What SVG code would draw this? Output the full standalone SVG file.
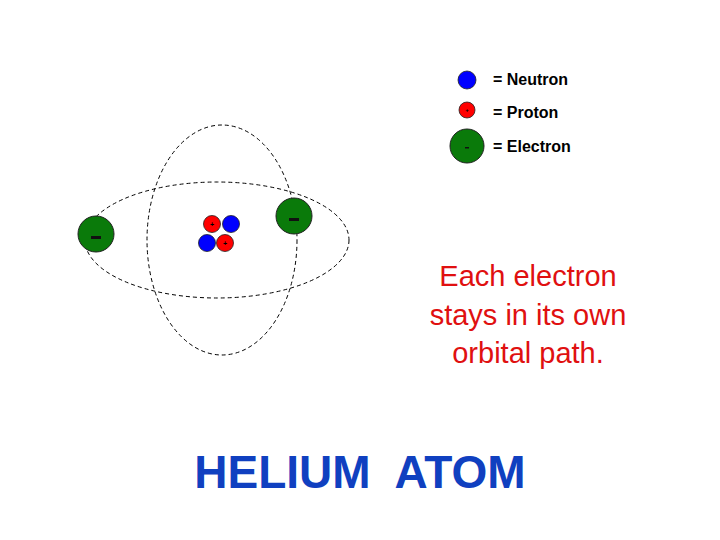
<svg xmlns="http://www.w3.org/2000/svg" width="720" height="540" viewBox="0 0 720 540">
<style>
.orb{fill:none;stroke:#000;stroke-width:1;stroke-dasharray:4,3}
.n{fill:#0000ff;stroke:#222;stroke-width:0.8}
.p{fill:#ff0000;stroke:#222;stroke-width:0.8}
.e{fill:#0a7a0a;stroke:#222;stroke-width:1}
.sg{font-family:"Liberation Sans",Arial,sans-serif;font-weight:bold;fill:#000}
.lg{font-family:"Liberation Sans",Arial,sans-serif;font-weight:bold;font-size:16px;fill:#000}
</style>
<rect width="720" height="540" fill="#fff"/>
<g id="connectors">
<ellipse class="orb" cx="217" cy="240" rx="132" ry="58"/>
<ellipse class="orb" cx="222" cy="240" rx="75" ry="115"/>
</g>
<g id="electron-left"><circle class="e" cx="96" cy="234" r="18"/><rect x="91" y="236" width="10" height="3" fill="#111"/></g>
<g id="electron-right"><circle class="e" cx="294" cy="216" r="18"/><rect x="289" y="218" width="10" height="3" fill="#111"/></g>
<g id="nucleus">
<circle class="n" cx="231" cy="224" r="8.5"/>
<circle class="p" cx="212" cy="224" r="8.5"/>
<circle class="n" cx="207" cy="243" r="8.5"/>
<circle class="p" cx="225" cy="243" r="8.5"/>
<text x="212" y="227" font-size="7" text-anchor="middle" class="sg">+</text>
<text x="225" y="246" font-size="7" text-anchor="middle" class="sg">+</text>
</g>
<g id="legend-neutron"><circle class="n" cx="467" cy="80" r="9"/><text class="lg" x="493" y="85">= Neutron</text></g>
<g id="legend-proton"><circle class="p" cx="467" cy="110" r="8"/><text x="467" y="112" font-size="6" text-anchor="middle" class="sg">+</text><text class="lg" x="493" y="118">= Proton</text></g>
<g id="legend-electron"><circle class="e" cx="467" cy="146" r="17"/><rect x="465" y="147" width="4" height="1.5" fill="#111"/><text class="lg" x="493" y="152">= Electron</text></g>
<g id="caption" font-family="'Liberation Sans',Arial,sans-serif" font-size="29" fill="#e01010" text-anchor="middle">
<text x="528" y="286">Each electron</text>
<text x="528" y="325">stays in its own</text>
<text x="528" y="363">orbital path.</text>
</g>
<g id="title"><text x="360" y="488" font-family="'Liberation Sans',Arial,sans-serif" font-weight="bold" font-size="46" fill="#1040c0" text-anchor="middle" xml:space="preserve">HELIUM  ATOM</text></g>
</svg>
